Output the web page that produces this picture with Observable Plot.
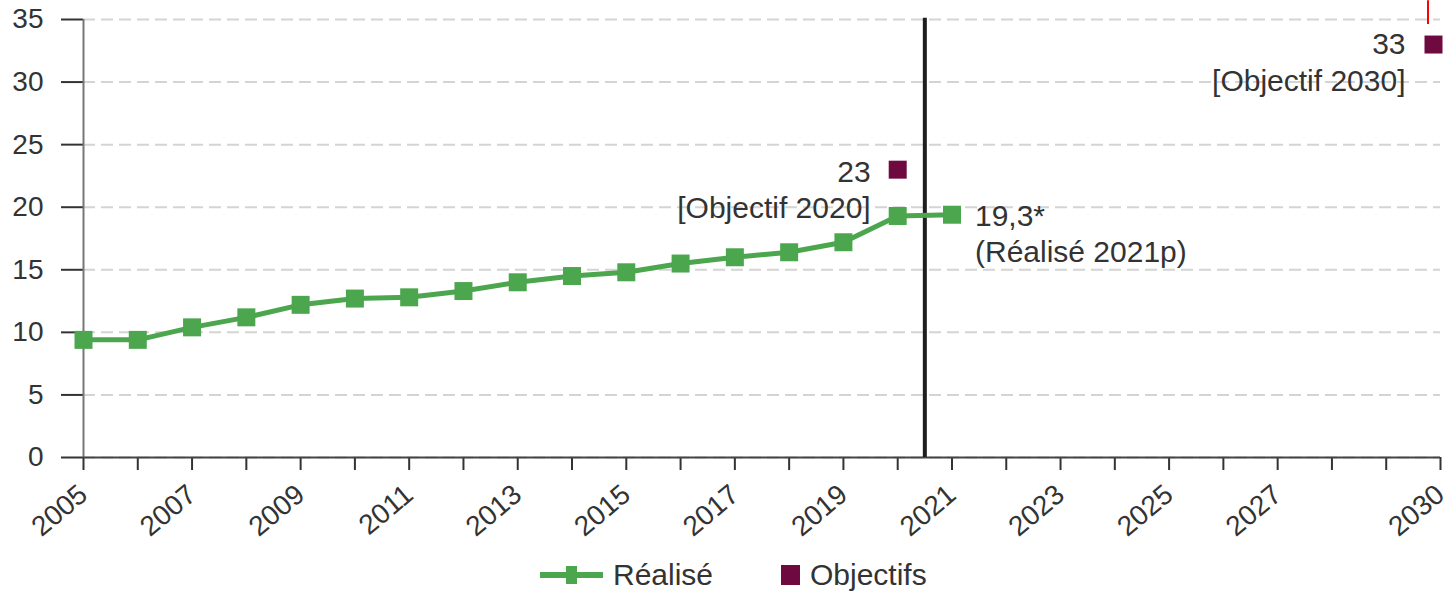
<!DOCTYPE html>
<html>
<head>
<meta charset="utf-8">
<script src="https://cdn.jsdelivr.net/npm/d3@7"></script>
<script src="https://cdn.jsdelivr.net/npm/@observablehq/plot@0.6"></script>
<style>
  body { margin: 0; background: white; font-family: "Liberation Sans", Arial, sans-serif; color: #333; }
  #legend { position: relative; height: 54px; font-size: 30px; }
  .item { position: absolute; top: 0; height: 54px; display: flex; align-items: center; }
</style>
</head>
<body>
<div id="chart"></div>
<div id="legend"></div>
<script>
// ---- data ----
const years = [2005, 2006, 2007, 2008, 2009, 2010, 2011, 2012, 2013, 2014, 2015, 2016, 2017, 2018, 2019, 2020, 2021];
const realiseValues = [9.4, 9.4, 10.4, 11.2, 12.2, 12.7, 12.8, 13.3, 14.0, 14.5, 14.8, 15.5, 16.0, 16.4, 17.2, 19.3, 19.4];
const objectifYears = [2020, 2030];
const objectifValues = [23, 33];
const objectifLabels = ["[Objectif 2020]", "[Objectif 2030]"];
const lastLabelValue = "19,3*";
const lastLabelText = "(Réalisé 2021p)";
const yTicks = [0, 5, 10, 15, 20, 25, 30, 35];
const xTicks = d3.range(2005, 2031);
const xTickLabels = [2005, 2007, 2009, 2011, 2013, 2015, 2017, 2019, 2021, 2023, 2025, 2027, 2030];
const dividerYear = [2020.5];
const redMark = [{x: 2029.77, y1: 34.6, y2: 36.5}];

const green = "#4ca64e";
const purple = "#6e0a40";

const realise = years.map((y, i) => ({year: y, value: realiseValues[i]}));
const objectifs = objectifYears.map((y, i) => ({year: y, value: objectifValues[i], label: objectifLabels[i]}));
const last = realise[realise.length - 1];

const chart = Plot.plot({
  width: 1447,
  height: 548,
  marginLeft: 83,
  marginRight: 7,
  marginTop: 19,
  marginBottom: 91,
  x: {domain: [2005, 2030]},
  y: {domain: [0, 35]},
  style: {fontFamily: "'Liberation Sans', Arial, sans-serif", fontSize: "28px", color: "#333", background: "white", overflow: "visible"},
  marks: [
    Plot.gridY(yTicks, {stroke: "#d4d4d4", strokeOpacity: 1, strokeWidth: 2, strokeDasharray: "12,6"}),
    Plot.axisY(yTicks, {tickSize: 22, tickPadding: 18, stroke: "#333", strokeWidth: 2, fill: "#333", fontSize: 28, label: null, tickFormat: d => String(d)}),
    Plot.axisX(xTicks, {tickSize: 13, tickPadding: 20, tickRotate: -40, stroke: "#333", strokeWidth: 2, fill: "#333", fontSize: 28, label: null,
      tickFormat: d => xTickLabels.includes(d) ? String(d) : ""}),
    Plot.ruleX([2005], {stroke: "#777", strokeWidth: 2}),
    Plot.ruleY([0], {stroke: "#444", strokeWidth: 2}),
    Plot.ruleX(dividerYear, {y1: 0, y2: 35.1, stroke: "#1e1e1e", strokeWidth: 4}),
    Plot.ruleX(redMark, {x: "x", y1: "y1", y2: "y2", stroke: "red", strokeWidth: 2}),
    Plot.line(realise, {x: "year", y: "value", stroke: green, strokeWidth: 5}),
    Plot.dot(realise, {x: "year", y: "value", symbol: "square", r: 10.15, fill: green, stroke: "none"}),
    Plot.dot(objectifs, {x: "year", y: "value", symbol: "square", r: 10.15, fill: purple, stroke: "none"}),
    // objective labels
    Plot.text([objectifs[0]], {x: "year", y: "value", text: d => String(d.value), textAnchor: "end", dx: -27, dy: 3, fill: "#333", fontSize: 30}),
    Plot.text([objectifs[0]], {x: "year", y: "value", text: "label", textAnchor: "end", dx: -27, dy: 39, fill: "#333", fontSize: 30}),
    Plot.text([objectifs[1]], {x: "year", y: "value", text: d => String(d.value), textAnchor: "end", dx: -35, dy: 0, fill: "#333", fontSize: 30}),
    Plot.text([objectifs[1]], {x: "year", y: "value", text: "label", textAnchor: "end", dx: -35, dy: 37, fill: "#333", fontSize: 30}),
    // last realised label
    Plot.text([last], {x: "year", y: "value", text: () => lastLabelValue, textAnchor: "start", dx: 23, dy: 2, fill: "#333", fontSize: 30}),
    Plot.text([last], {x: "year", y: "value", text: () => lastLabelText, textAnchor: "start", dx: 23, dy: 38, fill: "#333", fontSize: 30})
  ]
});
document.getElementById("chart").appendChild(chart);

// shift the 2030 objective square slightly left so it is not clipped
const dots = chart.querySelectorAll("g[aria-label='dot']");
if (dots.length > 1) {
  const paths = dots[1].querySelectorAll("path");
  if (paths.length > 1) {
    const p = paths[1];
    const t = p.getAttribute("transform") || "";
    const m = t.match(/translate\(([-\d.]+),([-\d.]+)\)/);
    if (m) p.setAttribute("transform", `translate(${+m[1] - 7},${m[2]})`);
  }
}

const legend = document.getElementById("legend");
legend.innerHTML = `
  <div class="item" style="left:540px">
    <svg width="64" height="24"><line x1="0" y1="12" x2="63" y2="12" stroke="${green}" stroke-width="6"/><rect x="26" y="3" width="11" height="18" fill="${green}"/></svg>
    <span style="margin-left:9px">Réalisé</span>
  </div>
  <div class="item" style="left:781px">
    <svg width="19" height="22"><rect x="0" y="1" width="19" height="20" fill="${purple}"/></svg>
    <span style="margin-left:10px">Objectifs</span>
  </div>`;
</script>
</body>
</html>
